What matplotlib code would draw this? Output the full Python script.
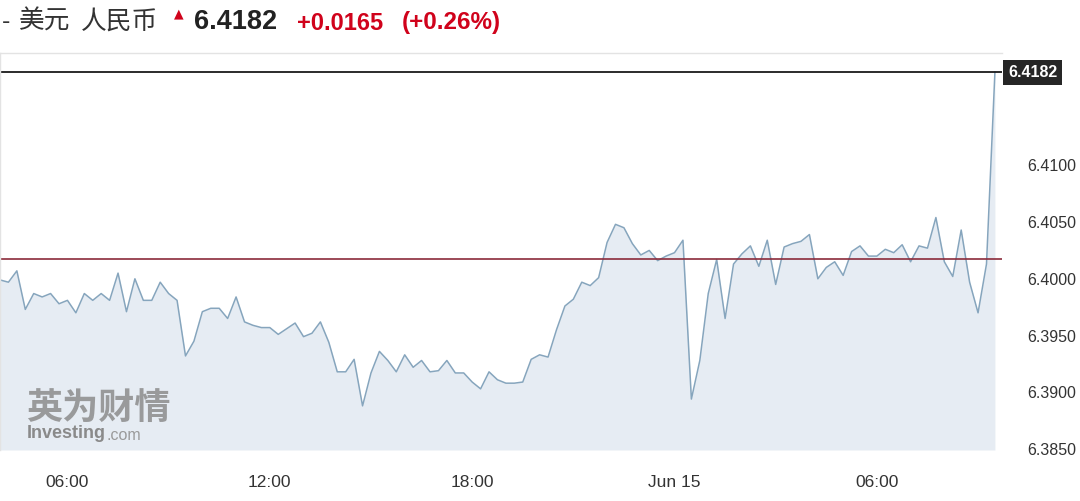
import numpy as np
import matplotlib.pyplot as plt
from matplotlib.ticker import FixedLocator, FixedFormatter

#---------------------------------data-------------------------------------
# USD/CNY, 15 minute closes, starting 04:00 (hours counted from Jun 14 00:00)
start_hour = 4.0
step_hour = 0.25
prices = [
    6.3999, 6.3997, 6.4007, 6.3973, 6.3987, 6.3984, 6.3987, 6.3978, 6.3981, 6.3970,
    6.3987, 6.3981, 6.3987, 6.3981, 6.4005, 6.3971, 6.4000, 6.3981, 6.3981, 6.3997,
    6.3987, 6.3981, 6.3932, 6.3945, 6.3971, 6.3974, 6.3974, 6.3965, 6.3984, 6.3962,
    6.3959, 6.3957, 6.3957, 6.3951, 6.3956, 6.3961, 6.3949, 6.3952, 6.3962, 6.3944,
    6.3918, 6.3918, 6.3929, 6.3888, 6.3917, 6.3936, 6.3928, 6.3918, 6.3933, 6.3922,
    6.3928, 6.3918, 6.3919, 6.3928, 6.3917, 6.3917, 6.3909, 6.3903, 6.3918, 6.3911,
    6.3908, 6.3908, 6.3909, 6.3929, 6.3933, 6.3931, 6.3955, 6.3976, 6.3982, 6.3997,
    6.3994, 6.4001, 6.4032, 6.4048, 6.4045, 6.4031, 6.4021, 6.4025, 6.4016, 6.4020,
    6.4023, 6.4034, 6.3894, 6.3928, 6.3987, 6.4017, 6.3965, 6.4013, 6.4022, 6.4029,
    6.4011, 6.4034, 6.3995, 6.4028, 6.4031, 6.4033, 6.4039, 6.4000, 6.4010, 6.4015,
    6.4003, 6.4024, 6.4029, 6.4020, 6.4020, 6.4026, 6.4023, 6.4030, 6.4015, 6.4029,
    6.4027, 6.4054, 6.4015, 6.4002, 6.4043, 6.3997, 6.3970, 6.4013, 6.4182,
]
last_price = 6.4182
prev_close = 6.4017
change_txt = "+0.0165"
change_pct_txt = "(+0.26%)"

y_ticks = [6.3850, 6.3900, 6.3950, 6.4000, 6.4050, 6.4100]
x_ticks = [6, 12, 18, 24, 30]
x_labels = ["06:00", "12:00", "18:00", "Jun 15", "06:00"]

#---------------------------------plot-------------------------------------
hours = start_hour + step_hour * np.arange(len(prices))

W, H = 1080, 501
fig = plt.figure(figsize=(W / 100, H / 100), dpi=100)
fig.patch.set_facecolor("white")

# axes box in pixels: left 0, right 1002, top 53, bottom 450
ax = fig.add_axes([0.0, 1 - 450 / H, 1002 / W, (450 - 53) / H])
ax.set_xlim(start_hour, 33.71)
ax.set_ylim(6.38491, 6.4199)

ax.fill_between(hours, prices, 6.38491, color="#e6ecf3", lw=0)
ax.plot(hours, prices, color="#86a5bd", lw=1.1)

ax.axhline(last_price, color="#1a1a1a", lw=1.3)
ax.axhline(prev_close, color="#8b2b3b", lw=1.2)

for side in ["right", "bottom"]:
    ax.spines[side].set_visible(False)
for side in ["top", "left"]:
    ax.spines[side].set_color("#e3e3e3")
    ax.spines[side].set_linewidth(1.0)

ax.yaxis.tick_right()
ax.yaxis.set_major_locator(FixedLocator(y_ticks))
ax.yaxis.set_major_formatter(FixedFormatter(["%.4f" % v for v in y_ticks]))
ax.tick_params(axis="y", length=0, pad=18, labelsize=11.5, labelcolor="#333333")
for lab in ax.get_yticklabels():
    lab.set_fontfamily("Liberation Sans")

ax.xaxis.set_major_locator(FixedLocator(x_ticks))
ax.xaxis.set_major_formatter(FixedFormatter(x_labels))
ax.tick_params(axis="x", length=0, pad=18, labelsize=12.5, labelcolor="#333333")
for lab in ax.get_xticklabels():
    lab.set_fontfamily("Liberation Sans")

# last price tag
ax.annotate("%.4f" % last_price, xy=(1.0, last_price), xycoords=("axes fraction", "data"),
            xytext=(4.5, 0), textcoords="offset points", ha="left", va="center",
            fontsize=11.5, fontweight="bold", color="white", family="Liberation Sans",
            bbox=dict(boxstyle="square,pad=0.3", fc="#262626", ec="none"))

# watermark
ax.text(26 / 1002, 1 - (408 - 53) / 397, "英为财情", transform=ax.transAxes,
        fontsize=26, fontweight="heavy", color="#8c8c8c", alpha=0.85,
        family=["Noto Sans CJK SC", "DejaVu Sans"], va="center", ha="left")
ax.text(27 / 1002, 1 - (434 - 53) / 397, "Investing", transform=ax.transAxes,
        fontsize=13, fontweight="bold", color="#8a8a8a", family="Liberation Sans",
        va="center", ha="left")
ax.text(106 / 1002, 1 - (435 - 53) / 397, ".com", transform=ax.transAxes,
        fontsize=11.5, color="#9a9a9a", family="Liberation Sans", va="center", ha="left")

#--------------------------------header------------------------------------
def px(x, y):
    return x / W, 1 - y / H

cjk = ["Noto Sans CJK SC", "DejaVu Sans"]
fig.text(*px(2, 22), "-", fontsize=18, color="#333333", family="Liberation Sans",
         va="center", ha="left")
fig.text(*px(19, 22), "美元", fontsize=18.5, color="#333333", family=cjk,
         va="center", ha="left")
fig.text(*px(81, 22), "人民币", fontsize=18.5, color="#333333", family=cjk,
         va="center", ha="left")
fig.text(*px(179, 14), "▲", fontsize=9, color="#d0021b", family="DejaVu Sans",
         va="center", ha="center")
fig.text(*px(194, 22), "%.4f" % last_price, fontsize=19.5, fontweight="bold",
         color="#222222", family="Liberation Sans", va="center", ha="left")
fig.text(*px(297, 23), change_txt, fontsize=17, fontweight="bold",
         color="#d0021b", family="Liberation Sans", va="center", ha="left")
fig.text(*px(402, 23), change_pct_txt, fontsize=17.5, fontweight="bold",
         color="#d0021b", family="Liberation Sans", va="center", ha="left")

fig.savefig("out.png", dpi=100, facecolor="white")
